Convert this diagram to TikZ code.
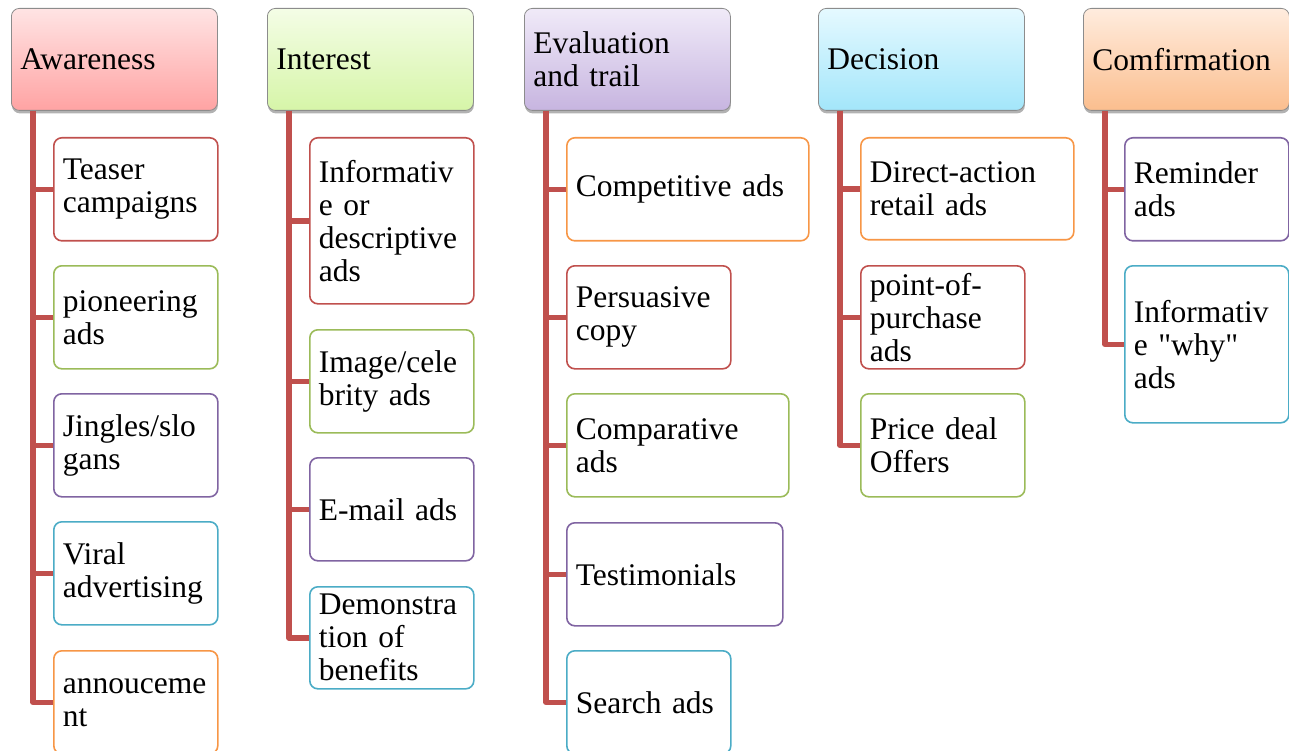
\documentclass[tikz,border=0pt]{standalone}
\usepackage{fontspec}
\setmainfont{Liberation Serif}
\usetikzlibrary{shadows,calc}

\definecolor{trunkred}{RGB}{192,80,77}
\definecolor{cRed}{RGB}{192,80,77}
\definecolor{cGreen}{RGB}{155,187,89}
\definecolor{cPurple}{RGB}{128,100,162}
\definecolor{cBlue}{RGB}{75,172,198}
\definecolor{cOrange}{RGB}{247,150,70}
\definecolor{hdrBorder}{RGB}{140,140,140}
\definecolor{aTop}{RGB}{255,228,228}\definecolor{aBot}{RGB}{255,163,163}
\definecolor{iTop}{RGB}{244,253,230}\definecolor{iBot}{RGB}{214,245,168}
\definecolor{eTop}{RGB}{240,234,248}\definecolor{eBot}{RGB}{199,181,224}
\definecolor{dTop}{RGB}{229,249,255}\definecolor{dBot}{RGB}{163,230,250}
\definecolor{cTop}{RGB}{255,236,222}\definecolor{cBot}{RGB}{251,190,142}

\tikzset{
  basebox/.style={anchor=north west, rounded corners=8pt, inner xsep=9pt,
    inner ysep=2pt, align=left, font=\fontsize{31.5}{33}\selectfont},
  header/.style n args={2}{basebox, draw=hdrBorder, line width=0.8pt,
    top color=#1, bottom color=#2, text width=188pt, minimum height=102pt,
    drop shadow={shadow xshift=0.5pt, shadow yshift=-3pt, opacity=0.3, fill=black}},
  kid/.style n args={3}{basebox, draw=#1, line width=1.6pt, fill=white,
    text width=#2, minimum height=#3},
  trunk/.style={draw=trunkred, line width=5.5pt, line join=round},
}

\begin{document}
\begin{tikzpicture}[x=1pt,y=-1pt]
\useasboundingbox (0,0) rectangle (1289,751);

% stage headers
\node[header={aTop}{aBot}] (h1) at (11,8) {Awareness};
\node[header={iTop}{iBot}] (h2) at (267,8) {Interest};
\node[header={eTop}{eBot}] (h3) at (524,8) {Evaluation\\and trail};
\node[header={dTop}{dBot}] (h4) at (818,8) {Decision};
\node[header={cTop}{cBot}] (h5) at (1083,8) {Comfirmation};

% trunk roots under each header
\foreach \i in {1,...,5}{
  \coordinate (t\i) at ($(h\i.south west)+(22,0)$);
}

% Awareness
\node[kid={cRed}{146pt}{103pt}]    (a1) at (53,137) {Teaser\\campaigns};
\node[kid={cGreen}{146pt}{103pt}]  (a2) at (53,265) {pioneering\\ads};
\node[kid={cPurple}{146pt}{103pt}] (a3) at (53,393) {Jingles/slo\\gans};
\node[kid={cBlue}{146pt}{103pt}]   (a4) at (53,521) {Viral\\advertising};
\node[kid={cOrange}{146pt}{103pt}] (a5) at (53,650) {annouceme\\nt};

% Interest
\node[kid={cRed}{146pt}{166pt}]    (b1) at (309,137) {Informativ\\e or\\descriptive\\ads};
\node[kid={cGreen}{146pt}{103pt}]  (b2) at (309,329) {Image/cele\\brity ads};
\node[kid={cPurple}{146pt}{103pt}] (b3) at (309,457) {E-mail ads};
\node[kid={cBlue}{146pt}{102pt}]   (b4) at (309,586) {Demonstra\\tion of\\benefits};

% Evaluation and trail
\node[kid={cOrange}{224pt}{103pt}] (c1) at (566,137) {Competitive ads};
\node[kid={cRed}{146pt}{103pt}]    (c2) at (566,265) {Persuasive\\copy};
\node[kid={cGreen}{204pt}{103pt}]  (c3) at (566,393) {Comparative\\ads};
\node[kid={cPurple}{198pt}{103pt}] (c4) at (566,522) {Testimonials};
\node[kid={cBlue}{146pt}{103pt}]   (c5) at (566,650) {Search ads};

% Decision
\node[kid={cOrange}{195pt}{102pt}] (d1) at (860,137) {Direct-action\\retail ads};
\node[kid={cRed}{146pt}{103pt}]    (d2) at (860,265) {point-of-\\purchase\\ads};
\node[kid={cGreen}{146pt}{103pt}]  (d3) at (860,393) {Price deal\\Offers};

% Comfirmation
\node[kid={cPurple}{146pt}{103pt}] (e1) at (1124,137) {Reminder\\ads};
\node[kid={cBlue}{146pt}{157pt}]   (e2) at (1124,265) {Informativ\\e \textquotedbl why\textquotedbl\\ads};

% connectors from each trunk to its items
\foreach \k in {a1,a2,a3,a4,a5} \draw[trunk] (t1) |- (\k.west);
\foreach \k in {b1,b2,b3,b4}    \draw[trunk] (t2) |- (\k.west);
\foreach \k in {c1,c2,c3,c4,c5} \draw[trunk] (t3) |- (\k.west);
\foreach \k in {d1,d2,d3}       \draw[trunk] (t4) |- (\k.west);
\foreach \k in {e1,e2}          \draw[trunk] (t5) |- (\k.west);
\end{tikzpicture}
\end{document}
